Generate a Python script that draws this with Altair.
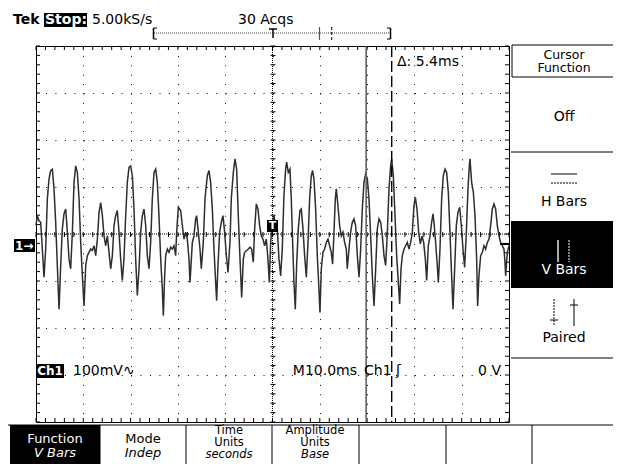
import altair as alt
import pandas as pd
import numpy as np

# ---------------- data (time in ms, amplitude in mV) ----------------
seg1_t = [0.0, 0.28, 0.63, 0.99, 1.34, 1.69, 2.05, 2.40, 2.75, 3.10, 3.46, 3.81, 4.16, 4.51, 4.87, 5.22,
          5.57, 5.92, 6.28, 6.63, 6.98, 7.33, 7.69, 8.04, 8.39, 8.74, 9.10, 9.45, 9.80, 10.15, 10.51, 10.86,
          11.21, 11.56, 11.92, 12.27, 12.62, 12.97, 13.33, 13.68, 14.03, 14.38, 14.74, 15.09, 15.44, 15.79, 16.15]
seg1_mv = [18, 39, 28, 25, -32, -92, -32, 75, 117, 135, 138, 96, 25, -67, -160, -67,
           11, 43, 53, 4, -53, -74, 4, 110, 145, 131, 75, -18, -89, -153, -67, -46,
           -39, -32, -35, -25, -46, -11, 46, 67, 39, -4, -25, -4, -39, -74, -46]
seg2_t = [16.49, 16.84, 17.19, 17.55, 17.90, 18.25, 18.60, 18.96, 19.31, 19.66, 20.01, 20.37, 20.72, 21.07,
          21.42, 21.78, 22.13, 22.48, 22.83, 23.19, 23.54, 23.89, 24.24, 24.59, 24.95, 25.30, 25.65, 26.00,
          26.36, 26.71, 26.92, 27.20, 27.41, 27.77, 28.12, 28.47, 28.82, 29.17, 29.53, 29.74, 30.09, 30.58,
          30.94, 31.29, 31.64, 31.99, 32.35, 32.56, 33.05]
seg2_mv = [18, 39, 50, 4, -53, -99, -53, 39, 110, 142, 145, 124, 53, -53,
           -131, -74, 4, 39, 53, 18, -46, -74, -18, 75, 131, 138, 110, 39,
           -53, -117, -174, -89, -46, -32, -39, -28, -32, -25, -46, 4, 57, 50,
           18, -11, 4, -11, -53, -103, -18]
seg3_t = [33.40, 33.75, 33.96, 34.25, 34.67, 34.95, 35.37, 35.73, 36.22, 36.57, 36.92, 37.28, 37.63, 37.98,
          38.19, 38.47, 38.83, 39.18, 39.53, 39.88, 40.24, 40.59, 41.01, 41.29, 41.72, 42.07, 42.42, 42.77,
          43.13, 43.48, 43.83, 44.11, 44.53, 44.89, 45.24, 45.59, 45.94, 46.23, 46.58, 46.93, 47.28, 47.63,
          47.99, 48.34, 48.69, 49.04, 49.33, 49.61, 49.96]
seg3_mv = [-4, 32, 39, 11, -32, -74, -18, 75, 124, 135, 110, 53, -32, -103,
           -142, -67, 4, 25, 39, 4, -46, -82, -18, 75, 131, 160, 138, 39,
           -53, -135, -53, -39, -35, -32, -28, -32, -60, 11, 64, 53, 18, -4,
           -11, -25, -11, -53, -103, -18, 25]
seg4_t = [50.31, 50.66, 51.01, 51.37, 51.72, 52.07, 52.42, 52.78, 52.99, 53.34, 53.69, 53.97, 54.26, 54.54,
          54.82, 55.10, 55.45, 55.81, 56.09, 56.44, 56.79, 57.15, 57.50, 57.85, 58.20, 58.48, 58.77, 59.12,
          59.47, 59.82, 60.03, 60.32, 60.67, 61.02, 61.37, 61.73, 62.08, 62.43, 62.71, 63.00, 63.28, 63.49,
          63.84, 64.19, 64.55, 64.90, 65.25, 65.60, 65.81, 66.17, 66.52, 66.87]
seg4_mv = [39, 18, 11, -53, -89, -32, 82, 138, 153, 131, 138, 75, -18, -103,
           -160, -67, 11, 50, 53, 11, -46, -92, -18, 75, 124, 135, 117, 53,
           -46, -117, -167, -74, -39, -32, -18, -11, -25, -39, -64, 4, 75, 96,
           60, 18, -4, 4, -18, -32, -74, -32, 4, 25]
seg5_t = [67.23, 67.58, 67.93, 68.29, 68.64, 68.99, 69.34, 69.70, 70.05, 70.40, 70.75, 71.11, 71.46, 71.81,
          72.16, 72.52, 72.87, 73.22, 73.57, 73.92, 74.28, 74.63, 74.98, 75.19, 75.55, 75.90, 76.25, 76.60,
          76.88, 77.17, 77.45, 77.80, 78.15, 78.50, 78.86, 79.21, 79.56, 79.91, 80.20, 80.55, 80.90, 81.25,
          81.61, 81.96, 82.31, 82.59, 82.94, 83.30, 83.65, 83.93]
seg5_mv = [32, 18, -46, -92, -32, 53, 110, 128, 117, 75, -4, -89, -153, -74,
           11, 32, 25, -4, -46, -67, 4, 96, 145, 160, 124, 39, -46, -103,
           -149, -74, -46, -32, -25, -18, -32, -18, 4, 60, 78, 53, 4, -21,
           -4, -18, -53, -99, -25, -4, 25, 43]
seg6_t = [84.14, 84.49, 84.84, 85.06, 85.41, 85.76, 86.11, 86.47, 86.82, 87.17, 87.52, 87.87, 88.16, 88.51,
          88.86, 89.21, 89.57, 89.92, 90.27, 90.62, 90.98, 91.33, 91.61, 91.75, 92.10, 92.46, 92.81, 93.16,
          93.37, 93.65, 94.01, 94.36, 94.71, 95.06, 95.42, 95.77, 96.12, 96.47, 96.82, 97.18, 97.53, 97.88,
          98.23, 98.59, 98.94, 99.15, 99.29, 99.64, 99.99]
seg6_mv = [25, -18, -67, -103, -32, 75, 124, 138, 131, 89, 4, -89, -160, -74,
           18, 46, 57, 18, -32, -71, 4, 96, 145, 160, 110, 89, 39, -53,
           -153, -89, -46, -39, -25, -32, -18, -11, 18, 53, 64, 53, 18, -4,
           -18, -25, -32, -60, -89, -39, -25]

wave_t = seg1_t + seg2_t + seg3_t + seg4_t + seg5_t + seg6_t
wave_mv = seg1_mv + seg2_mv + seg3_mv + seg4_mv + seg5_mv + seg6_mv
assert len(wave_t) == len(wave_mv)

TIME_RANGE_MS = [0, 100]      # 10 divisions x 10 ms
AMPL_RANGE_MV = [-400, 400]   # 8 divisions x 100 mV
CURSOR_A_MS = 69.8
CURSOR_DELTA_MS = 5.4

# ---------------- layout ----------------
W, H = 473, 376          # graticule size
OX, OY = 36, 46          # graticule origin on the page
VIEW_W, VIEW_H = 605, 456
FONT = "DejaVu Sans"
FS = 14

xs = alt.Scale(domain=TIME_RANGE_MS, nice=False, zero=False)
ys = alt.Scale(domain=AMPL_RANGE_MV, nice=False, zero=False)
x_axis = alt.Axis(values=list(range(0, 101, 10)), grid=True, gridDash=[1, 8.4], gridColor="black",
                  gridOpacity=1, gridWidth=1, labels=False, ticks=False, domain=False, title=None)
y_axis = alt.Axis(values=list(range(-400, 401, 100)), grid=True, gridDash=[1, 8.46], gridColor="black",
                  gridOpacity=1, gridWidth=1, labels=False, ticks=False, domain=False, title=None)


def X(f):
    return alt.X(f, type="quantitative", scale=xs, axis=x_axis)


def Y(f):
    return alt.Y(f, type="quantitative", scale=ys, axis=y_axis)


one = pd.DataFrame({"k": [0]})


def rect(x1, y1, x2, y2, **mk):
    return alt.Chart(one).mark_rect(**mk).encode(
        x=alt.value(x1 - OX), x2=alt.value(x2 - OX), y=alt.value(y1 - OY), y2=alt.value(y2 - OY))


def seg(x1, y1, x2, y2, **mk):
    mk.setdefault("color", "black")
    return alt.Chart(one).mark_rule(**mk).encode(
        x=alt.value(x1 - OX), x2=alt.value(x2 - OX), y=alt.value(y1 - OY), y2=alt.value(y2 - OY))


def txt(s, x, y, align="left", **mk):
    mk.setdefault("font", FONT)
    mk.setdefault("fontSize", FS)
    mk.setdefault("color", "black")
    return alt.Chart(one).mark_text(align=align, baseline="middle", **mk).encode(
        x=alt.value(x - OX), y=alt.value(y - OY), text=alt.value(s))


layers = []

# ticks on graticule edges and centre lines (every 1/5 division)
tick_t = pd.DataFrame({"t": np.arange(0, 100.001, 2)})
tick_v = pd.DataFrame({"mv": np.arange(-400, 401, 20)})
layers += [
    alt.Chart(tick_t).mark_rule(color="black").encode(x=X("t"), y=alt.value(0), y2=alt.value(4)),
    alt.Chart(tick_t).mark_rule(color="black").encode(x=X("t"), y=alt.value(H), y2=alt.value(H - 4)),
    alt.Chart(tick_t).mark_rule(color="black").encode(x=X("t"), y=alt.value(H / 2 - 2), y2=alt.value(H / 2 + 3)),
    alt.Chart(tick_v).mark_rule(color="black").encode(y=Y("mv"), x=alt.value(0), x2=alt.value(4)),
    alt.Chart(tick_v).mark_rule(color="black").encode(y=Y("mv"), x=alt.value(W), x2=alt.value(W - 4)),
    alt.Chart(tick_v).mark_rule(color="black").encode(y=Y("mv"), x=alt.value(W / 2 - 2), x2=alt.value(W / 2 + 3)),
    alt.Chart(pd.DataFrame({"t": [50]})).mark_rule(color="black", strokeDash=[1, 1]).encode(x=X("t")),
    alt.Chart(pd.DataFrame({"mv": [0]})).mark_rule(color="black", strokeDash=[1, 1]).encode(y=Y("mv")),
]

# waveform
wave = pd.DataFrame({"t": wave_t, "mv": wave_mv})
layers.append(alt.Chart(wave).mark_line(color="#2e2e2e", strokeWidth=1.5).encode(x=X("t"), y=Y("mv")))

# cursors
layers += [
    alt.Chart(pd.DataFrame({"t": [CURSOR_A_MS]})).mark_rule(color="#606060", strokeWidth=1.6).encode(x=X("t")),
    alt.Chart(pd.DataFrame({"t": [CURSOR_A_MS + CURSOR_DELTA_MS]})).mark_rule(
        color="black", strokeWidth=1.4, strokeDash=[11, 4]).encode(x=X("t")),
]

# top status line
layers += [
    txt("Tek", 13, 20, fontWeight="bold"),
    rect(44, 13, 87, 27, fill="black"),
    txt("Stop:", 45, 20, color="white", fontWeight="bold"),
    txt("5.00kS/s", 92, 20),
    txt("30 Acqs", 238, 20),
]
# record bar
layers += [
    seg(154, 33, 389, 33, color="#444444", strokeDash=[1, 1]),
    seg(153.5, 28, 153.5, 39, strokeWidth=1.5), seg(153.5, 28, 157, 28), seg(153.5, 39, 157, 39),
    seg(390.5, 28, 390.5, 39, strokeWidth=1.5), seg(387, 28, 390.5, 28), seg(387, 39, 390.5, 39),
    seg(269, 29, 277, 29, strokeWidth=1.5), seg(273, 29, 273, 38, strokeWidth=1.5),
    seg(319.5, 27, 319.5, 40, color="#555555", strokeWidth=1.2),
    seg(331.7, 27, 331.7, 40, strokeDash=[3, 2]),
]

# markers inside graticule
layers += [
    rect(14, 239, 35, 252, fill="black"),
    txt("1→", 15, 245.5, color="white", fontWeight="bold", fontSize=12),
    rect(267, 220, 278, 232, fill="black"),
    txt("T", 272.5, 226, align="center", color="white", fontWeight="bold", fontSize=11),
    seg(500, 244, 509, 244, strokeWidth=2),
    txt(f"Δ: {CURSOR_DELTA_MS}ms", 397, 62),
    rect(36, 364, 64, 378, fill="black"),
    txt("Ch1", 50, 371, align="center", color="white", fontWeight="bold", fontSize=12),
    txt("100mV∿", 73, 371),
    txt("M10.0ms", 357, 371, align="right"),
    txt("Ch1 ʃ", 364, 371),
    txt("0 V", 501, 371, align="right"),
]

# right side menu
layers += [
    rect(512, 45, 617, 77, fill="white", stroke="black", strokeWidth=1),
    txt("Cursor", 564, 54.5, align="center", fontSize=12.5),
    txt("Function", 564, 68, align="center", fontSize=12.5),
    txt("Off", 564, 117, align="center"),
    seg(511, 152, 621, 152),
    seg(551, 174, 577, 174), seg(551, 183, 577, 183, strokeDash=[2, 1]),
    txt("H Bars", 564, 202, align="center"),
    rect(511, 221, 621, 288, fill="black"),
    seg(558, 240, 558, 262, color="#aaaaaa", strokeWidth=2),
    seg(569, 240, 569, 262, color="white", strokeDash=[2, 1]),
    txt("V Bars", 564, 270, align="center", color="white"),
    seg(554, 299, 554, 326, strokeDash=[2, 1]), seg(550, 320, 558, 320),
    seg(574, 299, 574, 326, color="#555555", strokeWidth=1.5), seg(570, 305, 578, 305),
    txt("Paired", 564, 338, align="center"),
    seg(511, 358, 621, 358),
]

# bottom menu
layers += [
    rect(10, 425, 100, 470, fill="black"),
    seg(8, 425, 621, 425),
]
for bx in [100, 186, 272, 359, 446, 532, 618]:
    layers.append(seg(bx, 425, bx, 470))
layers += [
    txt("Function", 55, 438.5, align="center", color="white", fontSize=13),
    txt("V Bars", 55, 453, align="center", color="white", fontStyle="italic", fontSize=13),
    txt("Mode", 143, 438.5, align="center", fontSize=13),
    txt("Indep", 143, 453, align="center", fontStyle="italic", fontSize=13),
    txt("Time", 229, 431, align="center", fontSize=11.5),
    txt("Units", 229, 443, align="center", fontSize=11.5),
    txt("seconds", 229, 455, align="center", fontStyle="italic", fontSize=11.5),
    txt("Amplitude", 315, 431, align="center", fontSize=11.5),
    txt("Units", 315, 443, align="center", fontSize=11.5),
    txt("Base", 315, 455, align="center", fontStyle="italic", fontSize=11.5),
]

chart = alt.layer(*layers).properties(
    width=W, height=H,
    autosize=alt.AutoSizeParams(type="none"),
    padding={"left": OX - 8, "top": OY - 8,
             "right": VIEW_W - (OX - 8) - W, "bottom": VIEW_H - (OY - 8) - H},
).configure_view(stroke="black", strokeWidth=1)

chart.save("out.html", embed_options={"renderer": "svg", "actions": False})
